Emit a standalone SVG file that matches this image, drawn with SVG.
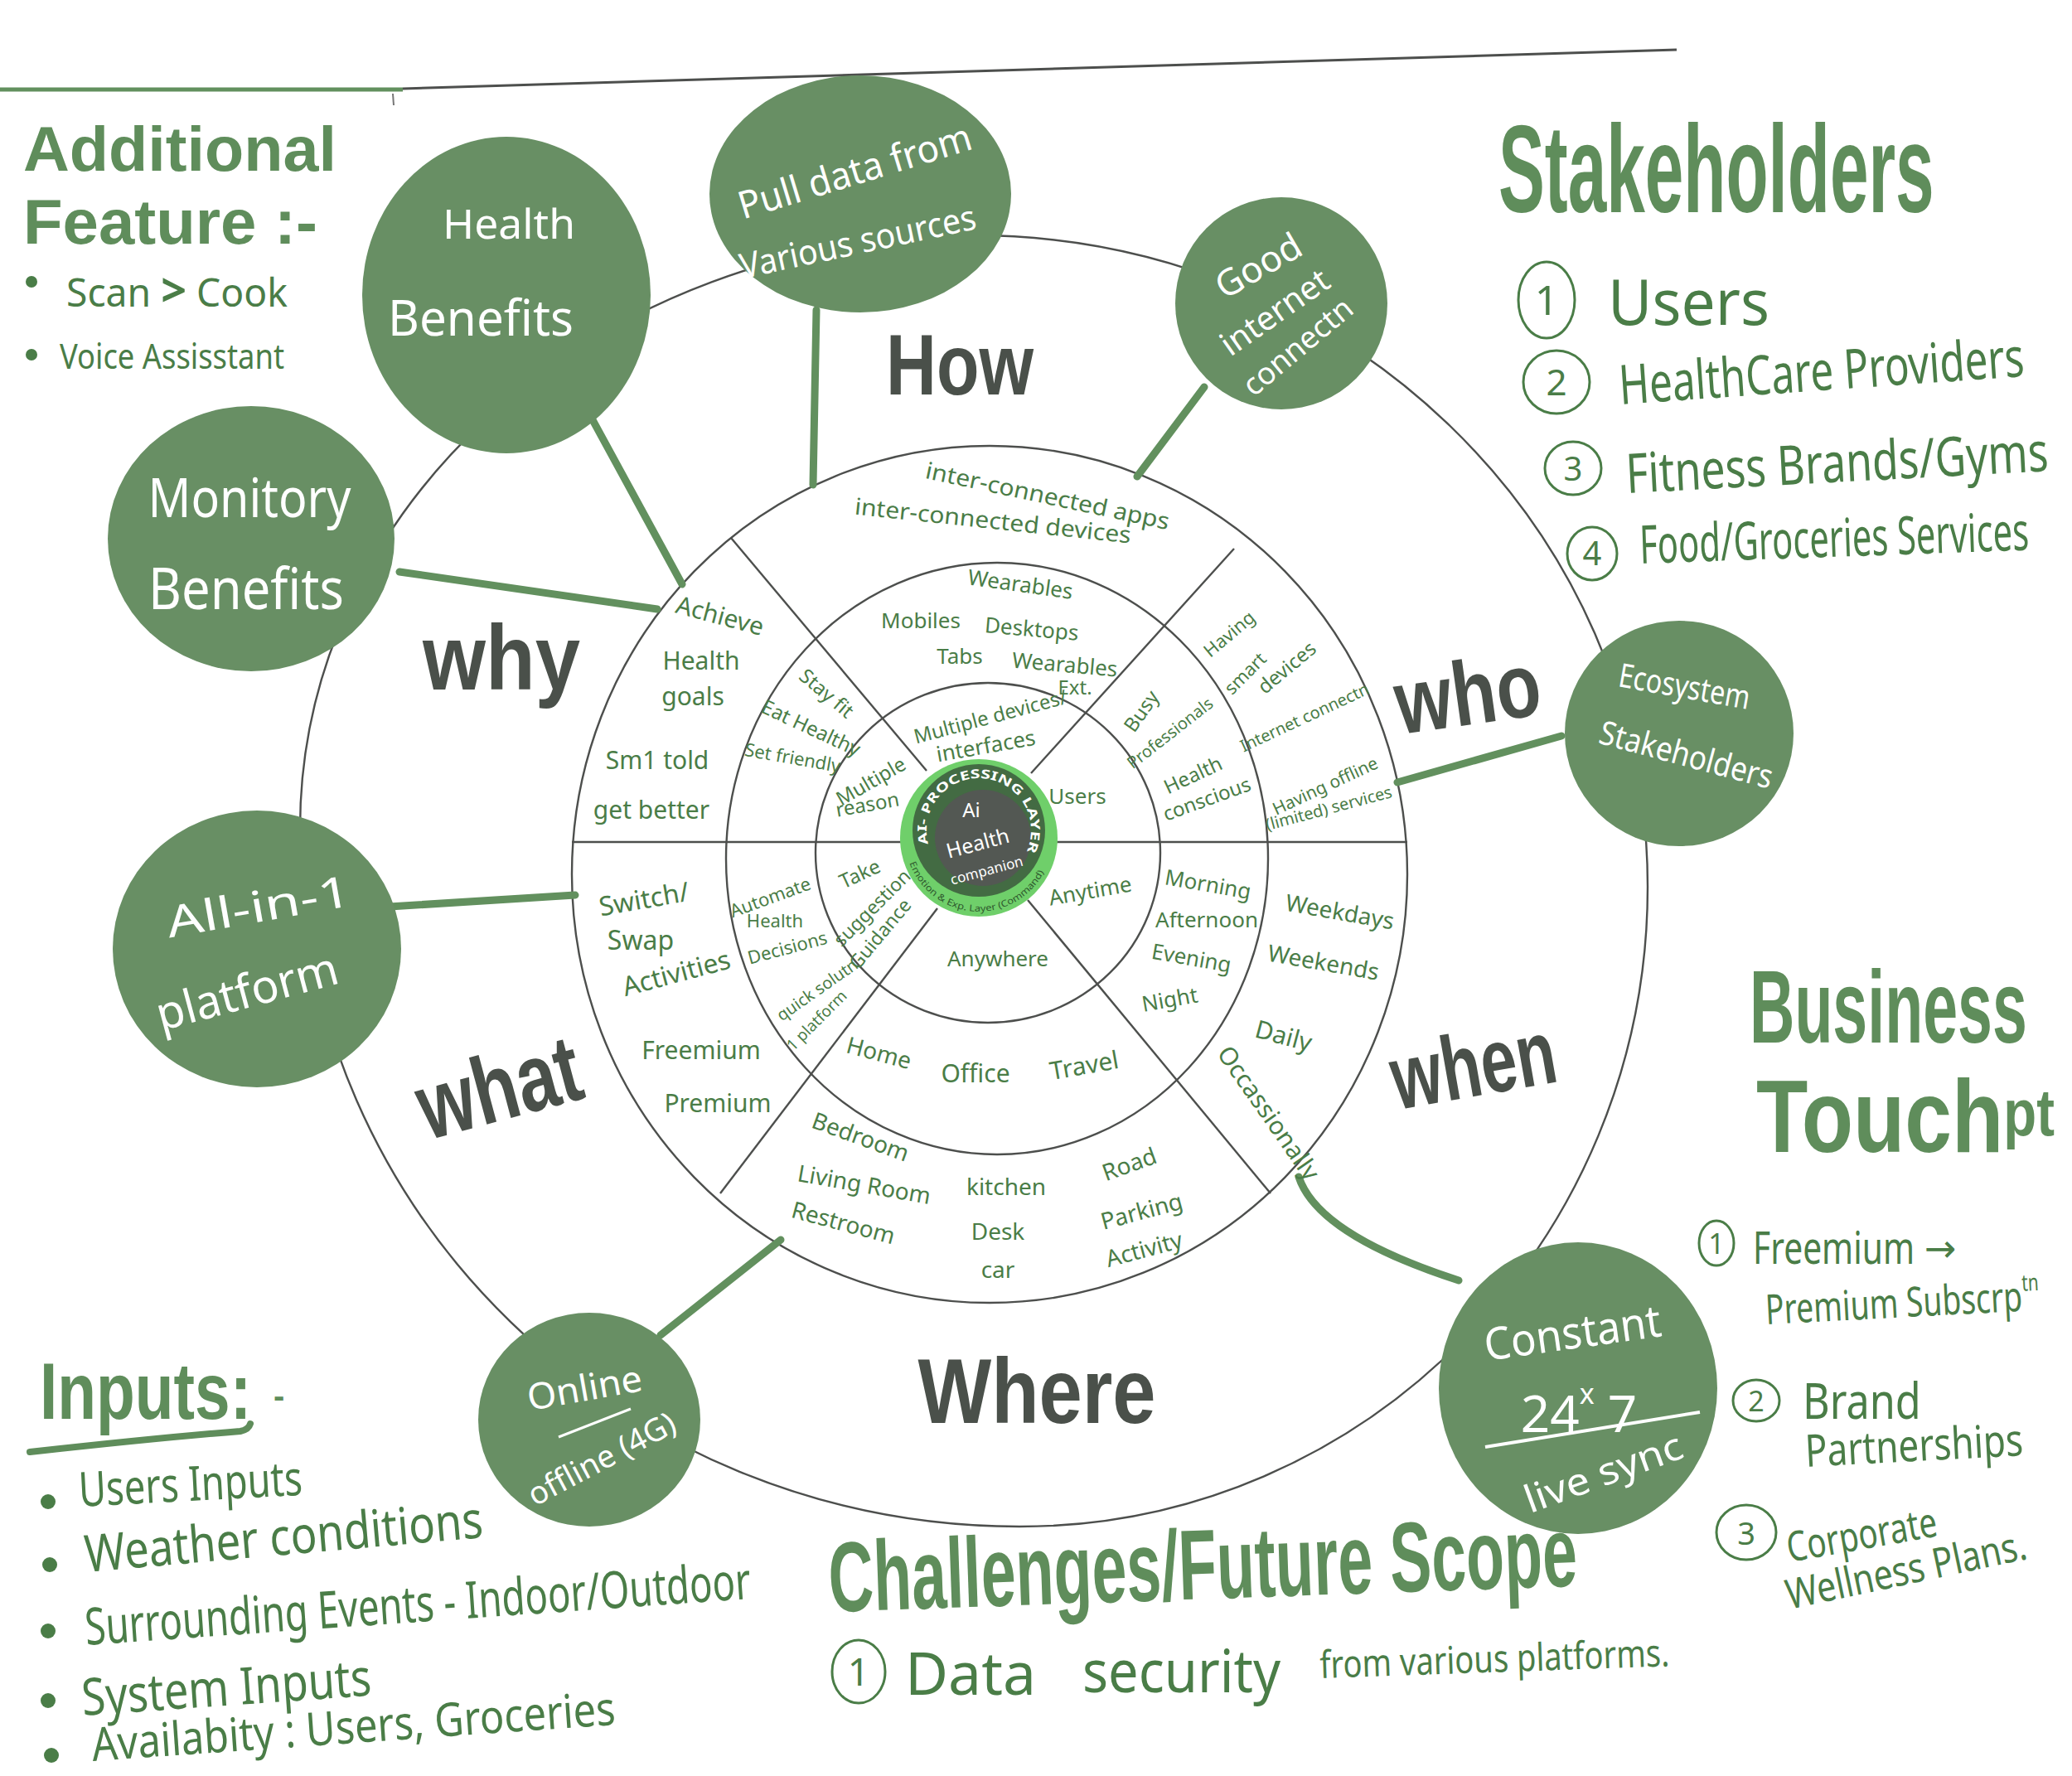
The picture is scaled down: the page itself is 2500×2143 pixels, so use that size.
<svg xmlns="http://www.w3.org/2000/svg" width="2500" height="2143" viewBox="0 0 2500 2143">
<defs>
<style>
.ring{fill:none;stroke:#4d4f4d;stroke-width:2.4}
.node{fill:#688f64}
.con{fill:none;stroke:#62905e;stroke-width:9;stroke-linecap:round}
.t{font-family:"Noto Sans","DejaVu Sans",sans-serif;fill:#4a7d47;text-anchor:middle}
.s{font-family:"Noto Sans","DejaVu Sans",sans-serif;fill:#4a7d47}
.w{font-family:"Noto Sans","DejaVu Sans",sans-serif;fill:#fff;text-anchor:middle}
.q{font-family:"Liberation Sans",Arial,sans-serif;font-weight:bold;fill:#4a504a;text-anchor:middle}
.h{font-family:"Liberation Sans",Arial,sans-serif;font-weight:bold;fill:#5f8d5b}
.num{fill:none;stroke:#4a7d47;stroke-width:3}
.dot{fill:#4a7d47}
</style>
<path id="arcTop" d="M1120.1,1018.3 A63,63 0 1 1 1232.6,1038.1" fill="none"/>
<path id="arcBot" d="M1097.4,1041.4 A89,89 0 0 0 1264.6,1041.4" fill="none"/>
</defs>
<rect width="2500" height="2143" fill="#fff"/>

<g id="frame">
<path d="M0,108 L486,108" stroke="#62905e" stroke-width="5" fill="none"/>
<path d="M486,107 L2023,60" stroke="#4d4f4d" stroke-width="3" fill="none"/>
<path d="M474,113 L475,127" stroke="#777" stroke-width="2" fill="none"/>
</g>

<g id="wheel">
<path class="ring" d="M1175,284 C1624,284 1988,636 1988,1070 C1988,1496 1649,1842 1230,1842 C751,1842 362,1465 362,1000 C362,605 726,284 1175,284 Z"/>
<ellipse class="ring" cx="1194" cy="1055" rx="504" ry="517"/>
<ellipse class="ring" cx="1203" cy="1036" rx="327" ry="357"/>
<ellipse class="ring" cx="1192" cy="1029" rx="208" ry="205"/>
<path class="ring" d="M690,1016 L1698,1016"/>
<path class="ring" d="M882,649 L1118,930"/>
<path class="ring" d="M1489,662 L1244,933"/>
<path class="ring" d="M1131,1096 L869,1440"/>
<path class="ring" d="M1240,1086 L1533,1440"/>
</g>

<g id="connectors">
<path class="con" d="M713,503 L823,705"/>
<path class="con" d="M985,374 L981,585"/>
<path class="con" d="M1453,467 L1372,575"/>
<path class="con" d="M482,690 L793,735"/>
<path class="con" d="M1884,888 L1686,944"/>
<path class="con" d="M470,1094 L694,1080"/>
<path class="con" d="M797,1611 L942,1496"/>
<path class="con" d="M1567,1420 Q1590,1490 1760,1545"/>
</g>

<g id="node-health-benefits">
<ellipse class="node" cx="611" cy="356" rx="174" ry="191"/>
<text class="w" x="614" y="288" font-size="50" textLength="160" lengthAdjust="spacingAndGlyphs">Health</text>
<text class="w" x="580" y="405" font-size="60" textLength="224" lengthAdjust="spacingAndGlyphs">Benefits</text>
</g>

<g id="node-pull-data">
<ellipse class="node" cx="1038" cy="234" rx="182" ry="143"/>
<text class="w" x="1036" y="222" font-size="46" textLength="292" lengthAdjust="spacingAndGlyphs" transform="rotate(-17 1036 222)">Pull data from</text>
<text class="w" x="1038" y="306" font-size="42" textLength="290" lengthAdjust="spacingAndGlyphs" transform="rotate(-12 1038 306)">Various sources</text>
</g>

<g id="node-good-internet">
<ellipse class="node" cx="1546" cy="366" rx="128" ry="128"/>
<text class="w" x="1526" y="334" font-size="44" transform="rotate(-30 1526 334)">Good</text>
<text class="w" x="1546" y="388" font-size="40" transform="rotate(-35 1546 388)">internet</text>
<text class="w" x="1574" y="428" font-size="37" transform="rotate(-40 1574 428)">connectn</text>
</g>

<g id="node-monitory">
<ellipse class="node" cx="303" cy="650" rx="173" ry="160"/>
<text class="w" x="301" y="624" font-size="66" textLength="245" lengthAdjust="spacingAndGlyphs">Monitory</text>
<text class="w" x="297" y="735" font-size="70" textLength="236" lengthAdjust="spacingAndGlyphs">Benefits</text>
</g>

<g id="node-ecosystem">
<ellipse class="node" cx="2026" cy="885" rx="138" ry="136"/>
<text class="w" x="2030" y="842" font-size="40" textLength="160" lengthAdjust="spacingAndGlyphs" transform="rotate(10 2030 842)">Ecosystem</text>
<text class="w" x="2031" y="924" font-size="40" textLength="215" lengthAdjust="spacingAndGlyphs" transform="rotate(15 2031 924)">Stakeholders</text>
</g>

<g id="node-all-in-1">
<ellipse class="node" cx="310" cy="1145" rx="174" ry="167"/>
<text class="w" x="315" y="1112" font-size="52" textLength="225" lengthAdjust="spacingAndGlyphs" transform="rotate(-10 315 1112)">All-in-1</text>
<text class="w" x="303" y="1215" font-size="56" textLength="225" lengthAdjust="spacingAndGlyphs" transform="rotate(-15 303 1215)">platform</text>
</g>

<g id="node-online">
<ellipse class="node" cx="711" cy="1713" rx="134" ry="129"/>
<text class="w" x="708" y="1690" font-size="44" textLength="140" lengthAdjust="spacingAndGlyphs" transform="rotate(-10 708 1690)">Online</text>
<path d="M674,1734 L761,1700" stroke="#fff" stroke-width="3" fill="none"/>
<text class="w" x="732" y="1772" font-size="38" textLength="196" lengthAdjust="spacingAndGlyphs" transform="rotate(-28 732 1772)">offline (4G)</text>
</g>

<g id="node-constant">
<ellipse class="node" cx="1904" cy="1675" rx="168" ry="176"/>
<text class="w" x="1900" y="1627" font-size="54" textLength="215" lengthAdjust="spacingAndGlyphs" transform="rotate(-8 1900 1627)">Constant</text>
<text class="w" x="1905" y="1728" font-size="62">24<tspan font-size="34" dy="-34">x</tspan><tspan dy="34"> 7</tspan></text>
<path d="M1792,1746 L2051,1704" stroke="#fff" stroke-width="4" fill="none"/>
<text class="w" x="1940" y="1792" font-size="46" textLength="200" lengthAdjust="spacingAndGlyphs" transform="rotate(-20 1940 1792)">live sync</text>
</g>

<g id="node-ai-core">
<circle cx="1181" cy="1011" r="95" fill="#6fcf6a"/>
<circle cx="1181" cy="1002" r="80" fill="#436b43"/>
<circle cx="1186" cy="1011" r="58" fill="#535853"/>
<text font-family="Noto Sans, DejaVu Sans, sans-serif" font-size="15" font-weight="bold" fill="#fff"><textPath href="#arcTop" textLength="240" lengthAdjust="spacingAndGlyphs">AI- PROCESSING LAYER</textPath></text>
<text font-family="Noto Sans, DejaVu Sans, sans-serif" font-size="11" fill="#2f5a2f"><textPath href="#arcBot" textLength="205" lengthAdjust="spacingAndGlyphs">Emotion &amp; Exp. Layer (Command)</textPath></text>
<text class="w" x="1172" y="986" font-size="24">Ai</text>
<text class="w" x="1182" y="1026" font-size="25" transform="rotate(-15 1182 1026)">Health</text>
<text class="w" x="1192" y="1056" font-size="17" transform="rotate(-15 1192 1056)">companion</text>
</g>

<g id="ring-labels">
<text class="t" x="1262" y="608" font-size="28" textLength="300" lengthAdjust="spacingAndGlyphs" transform="rotate(12 1262 608)">inter-connected apps</text>
<text class="t" x="1197" y="638" font-size="28" textLength="335" lengthAdjust="spacingAndGlyphs" transform="rotate(6 1197 638)">inter-connected devices</text>
<text class="t" x="866" y="753" font-size="30" transform="rotate(15 866 753)">Achieve</text>
<text class="t" x="846" y="808" font-size="30">Health</text>
<text class="t" x="836" y="851" font-size="30">goals</text>
<text class="t" x="793" y="928" font-size="30">Sm1 told</text>
<text class="t" x="786" y="988" font-size="30">get better</text>
<text class="t" x="779" y="1096" font-size="32" transform="rotate(-10 779 1096)">Switch/</text>
<text class="t" x="773" y="1146" font-size="32">Swap</text>
<text class="t" x="819" y="1185" font-size="32" transform="rotate(-15 819 1185)">Activities</text>
<text class="t" x="846" y="1278" font-size="30">Freemium</text>
<text class="t" x="866" y="1342" font-size="30">Premium</text>
<text class="t" x="1035" y="1381" font-size="28" transform="rotate(20 1035 1381)">Bedroom</text>
<text class="t" x="1041" y="1439" font-size="28" transform="rotate(10 1041 1439)">Living Room</text>
<text class="t" x="1015" y="1485" font-size="28" transform="rotate(15 1015 1485)">Restroom</text>
<text class="t" x="1214" y="1442" font-size="28">kitchen</text>
<text class="t" x="1204" y="1496" font-size="28">Desk</text>
<text class="t" x="1204" y="1542" font-size="28">car</text>
<text class="t" x="1366" y="1414" font-size="28" transform="rotate(-20 1366 1414)">Road</text>
<text class="t" x="1380" y="1471" font-size="28" transform="rotate(-15 1380 1471)">Parking</text>
<text class="t" x="1383" y="1517" font-size="28" transform="rotate(-15 1383 1517)">Activity</text>
<text class="t" x="1546" y="1260" font-size="30" transform="rotate(15 1546 1260)">Daily</text>
<text class="t" x="1522" y="1349" font-size="30" transform="rotate(55 1522 1349)">Occassionally</text>
<text class="t" x="1615" y="1110" font-size="28" transform="rotate(10 1615 1110)">Weekdays</text>
<text class="t" x="1595" y="1171" font-size="28" transform="rotate(10 1595 1171)">Weekends</text>
<text class="t" x="1488" y="771" font-size="22" transform="rotate(-40 1488 771)">Having</text>
<text class="t" x="1508" y="818" font-size="22" transform="rotate(-45 1508 818)">smart</text>
<text class="t" x="1558" y="812" font-size="24" transform="rotate(-40 1558 812)">devices</text>
<text class="t" x="1577" y="872" font-size="20" transform="rotate(-25 1577 872)">Internet connectn</text>
<text class="t" x="1602" y="955" font-size="21" transform="rotate(-25 1602 955)">Having offline</text>
<text class="t" x="1605" y="982" font-size="20" transform="rotate(-15 1605 982)">(limited) services</text>
<text class="t" x="1230" y="714" font-size="26" transform="rotate(8 1230 714)">Wearables</text>
<text class="t" x="1111" y="758" font-size="26">Mobiles</text>
<text class="t" x="1244" y="768" font-size="26" transform="rotate(5 1244 768)">Desktops</text>
<text class="t" x="1158" y="801" font-size="26">Tabs</text>
<text class="t" x="1284" y="811" font-size="26" transform="rotate(5 1284 811)">Wearables</text>
<text class="t" x="1297" y="838" font-size="24">Ext.</text>
<text class="t" x="992" y="843" font-size="24" transform="rotate(40 992 843)">Stay fit</text>
<text class="t" x="975" y="886" font-size="24" transform="rotate(25 975 886)">Eat Healthy</text>
<text class="t" x="955" y="922" font-size="22" transform="rotate(10 955 922)">Set friendly</text>
<text class="t" x="932" y="1090" font-size="22" transform="rotate(-20 932 1090)">Automate</text>
<text class="t" x="935" y="1119" font-size="22">Health</text>
<text class="t" x="952" y="1151" font-size="22" transform="rotate(-15 952 1151)">Decisions</text>
<text class="t" x="990" y="1200" font-size="20" transform="rotate(-35 990 1200)">quick solutn</text>
<text class="t" x="990" y="1236" font-size="19" transform="rotate(-45 990 1236)">1 platform</text>
<text class="t" x="1384" y="863" font-size="24" transform="rotate(-55 1384 863)">Busy</text>
<text class="t" x="1416" y="890" font-size="20" transform="rotate(-38 1416 890)">Professionals</text>
<text class="t" x="1443" y="943" font-size="24" transform="rotate(-25 1443 943)">Health</text>
<text class="t" x="1459" y="972" font-size="24" transform="rotate(-20 1459 972)">conscious</text>
<text class="t" x="1456" y="1076" font-size="26" transform="rotate(10 1456 1076)">Morning</text>
<text class="t" x="1456" y="1119" font-size="26">Afternoon</text>
<text class="t" x="1436" y="1165" font-size="26" transform="rotate(10 1436 1165)">Evening</text>
<text class="t" x="1413" y="1215" font-size="26" transform="rotate(-10 1413 1215)">Night</text>
<text class="t" x="1058" y="1280" font-size="28" transform="rotate(15 1058 1280)">Home</text>
<text class="t" x="1177" y="1306" font-size="30">Office</text>
<text class="t" x="1310" y="1296" font-size="30" transform="rotate(-10 1310 1296)">Travel</text>
<text class="t" x="1197" y="873" font-size="24" transform="rotate(-15 1197 873)">Multiple devices/</text>
<text class="t" x="1191" y="909" font-size="26" transform="rotate(-10 1191 909)">interfaces</text>
<text class="t" x="1055" y="950" font-size="24" transform="rotate(-30 1055 950)">Multiple</text>
<text class="t" x="1048" y="979" font-size="24" transform="rotate(-10 1048 979)">reason</text>
<text class="t" x="1300" y="970" font-size="26">Users</text>
<text class="t" x="1041" y="1062" font-size="24" transform="rotate(-25 1041 1062)">Take</text>
<text class="t" x="1058" y="1101" font-size="23" transform="rotate(-45 1058 1101)">suggestion</text>
<text class="t" x="1068" y="1132" font-size="23" transform="rotate(-50 1068 1132)">Guidance</text>
<text class="t" x="1317" y="1084" font-size="26" transform="rotate(-10 1317 1084)">Anytime</text>
<text class="t" x="1204" y="1166" font-size="26">Anywhere</text>
</g>

<g id="question-words">
<text class="q" x="1158" y="476" font-size="104" textLength="178" lengthAdjust="spacingAndGlyphs">How</text>
<text class="q" x="605" y="832" font-size="112" textLength="190" lengthAdjust="spacingAndGlyphs">why</text>
<text class="q" x="1776" y="874" font-size="110" textLength="176" lengthAdjust="spacingAndGlyphs" transform="rotate(-8 1776 874)">who</text>
<text class="q" x="1784" y="1322" font-size="110" textLength="200" lengthAdjust="spacingAndGlyphs" transform="rotate(-10 1784 1322)">when</text>
<text class="q" x="612" y="1350" font-size="115" textLength="200" lengthAdjust="spacingAndGlyphs" transform="rotate(-15 612 1350)">what</text>
<text class="q" x="1251" y="1717" font-size="112" textLength="287" lengthAdjust="spacingAndGlyphs">Where</text>
</g>

<g id="additional-feature">
<text class="h" x="28" y="206" font-size="76" textLength="378" lengthAdjust="spacingAndGlyphs">Additional</text>
<text class="h" x="28" y="294" font-size="76" textLength="355" lengthAdjust="spacingAndGlyphs">Feature :-</text>
<circle class="dot" cx="38" cy="340" r="7"/>
<text class="s" x="80" y="370" font-size="48" textLength="267" lengthAdjust="spacingAndGlyphs">Scan <tspan font-weight="bold" font-size="56">&gt;</tspan> Cook</text>
<circle class="dot" cx="38" cy="428" r="7"/>
<text class="s" x="72" y="445" font-size="42" textLength="271" lengthAdjust="spacingAndGlyphs">Voice Assisstant</text>
</g>

<g id="stakeholders">
<text class="h" font-size="150" textLength="942" lengthAdjust="spacingAndGlyphs" transform="translate(1808,256) scale(0.558,1)">Stakeholders</text>
<ellipse class="num" cx="1866" cy="362" rx="34" ry="46"/>
<text class="t" x="1866" y="380" font-size="50">1</text>
<text class="s" x="1940" y="392" font-size="76" textLength="195" lengthAdjust="spacingAndGlyphs">Users</text>
<ellipse class="num" cx="1878" cy="461" rx="40" ry="38"/>
<text class="t" x="1878" y="477" font-size="44">2</text>
<text class="s" font-size="66" textLength="662" lengthAdjust="spacingAndGlyphs" transform="translate(1955,488) rotate(-4) scale(0.74,1)">HealthCare Providers</text>
<ellipse class="num" cx="1898" cy="565" rx="34" ry="32"/>
<text class="t" x="1898" y="580" font-size="40">3</text>
<text class="s" font-size="66" textLength="654" lengthAdjust="spacingAndGlyphs" transform="translate(1963,595) rotate(-3) scale(0.78,1)">Fitness Brands/Gyms</text>
<ellipse class="num" cx="1921" cy="668" rx="30" ry="32"/>
<text class="t" x="1921" y="682" font-size="40">4</text>
<text class="s" font-size="64" textLength="723" lengthAdjust="spacingAndGlyphs" transform="translate(1979,680) rotate(-2) scale(0.65,1)">Food/Groceries Services</text>
</g>

<g id="business-touchpoints">
<text class="h" font-size="125" textLength="558" lengthAdjust="spacingAndGlyphs" transform="translate(2111,1258) scale(0.6,1)">Business</text>
<text class="h" font-size="125" textLength="450" lengthAdjust="spacingAndGlyphs" transform="translate(2119,1390) scale(0.8,1)">Touch<tspan font-size="80" dy="-20">pt</tspan></text>
<ellipse class="num" cx="2071" cy="1500" rx="21" ry="27"/>
<text class="t" x="2071" y="1513" font-size="34">1</text>
<text class="s" font-size="54" textLength="260" lengthAdjust="spacingAndGlyphs" transform="translate(2115,1525) scale(0.75,1)">Freemium</text>
<text class="s" x="2322" y="1522" font-size="46">→</text>
<text class="s" font-size="50" textLength="441" lengthAdjust="spacingAndGlyphs" transform="translate(2131,1598) rotate(-3) scale(0.75,1)">Premium Subscrp<tspan font-size="28" dy="-24">tn</tspan></text>
<ellipse class="num" cx="2119" cy="1690" rx="28" ry="25"/>
<text class="t" x="2119" y="1703" font-size="34">2</text>
<text class="s" font-size="60" textLength="168" lengthAdjust="spacingAndGlyphs" transform="translate(2175,1712) scale(0.85,1)">Brand</text>
<text class="s" font-size="54" textLength="321" lengthAdjust="spacingAndGlyphs" transform="translate(2179,1770) rotate(-3) scale(0.82,1)">Partnerships</text>
<ellipse class="num" cx="2107" cy="1849" rx="36" ry="33"/>
<text class="t" x="2107" y="1864" font-size="38">3</text>
<text class="s" font-size="50" textLength="235" lengthAdjust="spacingAndGlyphs" transform="translate(2159,1885) rotate(-10) scale(0.78,1)">Corporate</text>
<text class="s" font-size="50" textLength="360" lengthAdjust="spacingAndGlyphs" transform="translate(2159,1942) rotate(-12) scale(0.82,1)">Wellness Plans.</text>
</g>

<g id="inputs">
<text class="h" font-size="96" textLength="319" lengthAdjust="spacingAndGlyphs" transform="translate(48,1712) scale(0.8,1)">Inputs:</text>
<text class="h" x="330" y="1698" font-size="40">-</text>
<path d="M36,1752 Q200,1734 290,1727 Q300,1725 302,1718" stroke="#5f8d5b" stroke-width="8" fill="none" stroke-linecap="round"/>
<circle class="dot" cx="58" cy="1812" r="9"/>
<text class="s" x="96" y="1818" font-size="58" textLength="270" lengthAdjust="spacingAndGlyphs" transform="rotate(-3 96 1818)">Users Inputs</text>
<circle class="dot" cx="60" cy="1888" r="9"/>
<text class="s" x="104" y="1897" font-size="62" textLength="482" lengthAdjust="spacingAndGlyphs" transform="rotate(-5 104 1897)">Weather conditions</text>
<circle class="dot" cx="58" cy="1968" r="9"/>
<text class="s" font-size="62" textLength="1150" lengthAdjust="spacingAndGlyphs" transform="translate(104,1985) rotate(-4) scale(0.7,1)">Surrounding Events - Indoor/Outdoor</text>
<circle class="dot" cx="58" cy="2052" r="9"/>
<text class="s" x="100" y="2070" font-size="62" textLength="350" lengthAdjust="spacingAndGlyphs" transform="rotate(-4 100 2070)">System Inputs</text>
<circle class="dot" cx="62" cy="2118" r="9"/>
<text class="s" x="112" y="2125" font-size="56" textLength="633" lengthAdjust="spacingAndGlyphs" transform="rotate(-4 112 2125)">Availabity : Users, Groceries</text>
</g>

<g id="challenges">
<text class="h" font-size="120" textLength="1412" lengthAdjust="spacingAndGlyphs" transform="translate(1001,1945) rotate(-2) scale(0.64,1)">Challenges/Future Scope</text>
<ellipse class="num" cx="1036" cy="2017" rx="32" ry="38"/>
<text class="t" x="1036" y="2034" font-size="46">1</text>
<text class="s" x="1092" y="2045" font-size="72" textLength="158" lengthAdjust="spacingAndGlyphs">Data</text>
<text class="s" x="1306" y="2042" font-size="72" textLength="239" lengthAdjust="spacingAndGlyphs">security</text>
<text class="s" x="1593" y="2025" font-size="46" textLength="422" lengthAdjust="spacingAndGlyphs" transform="rotate(-2 1593 2025)">from various platforms.</text>
</g>
</svg>
